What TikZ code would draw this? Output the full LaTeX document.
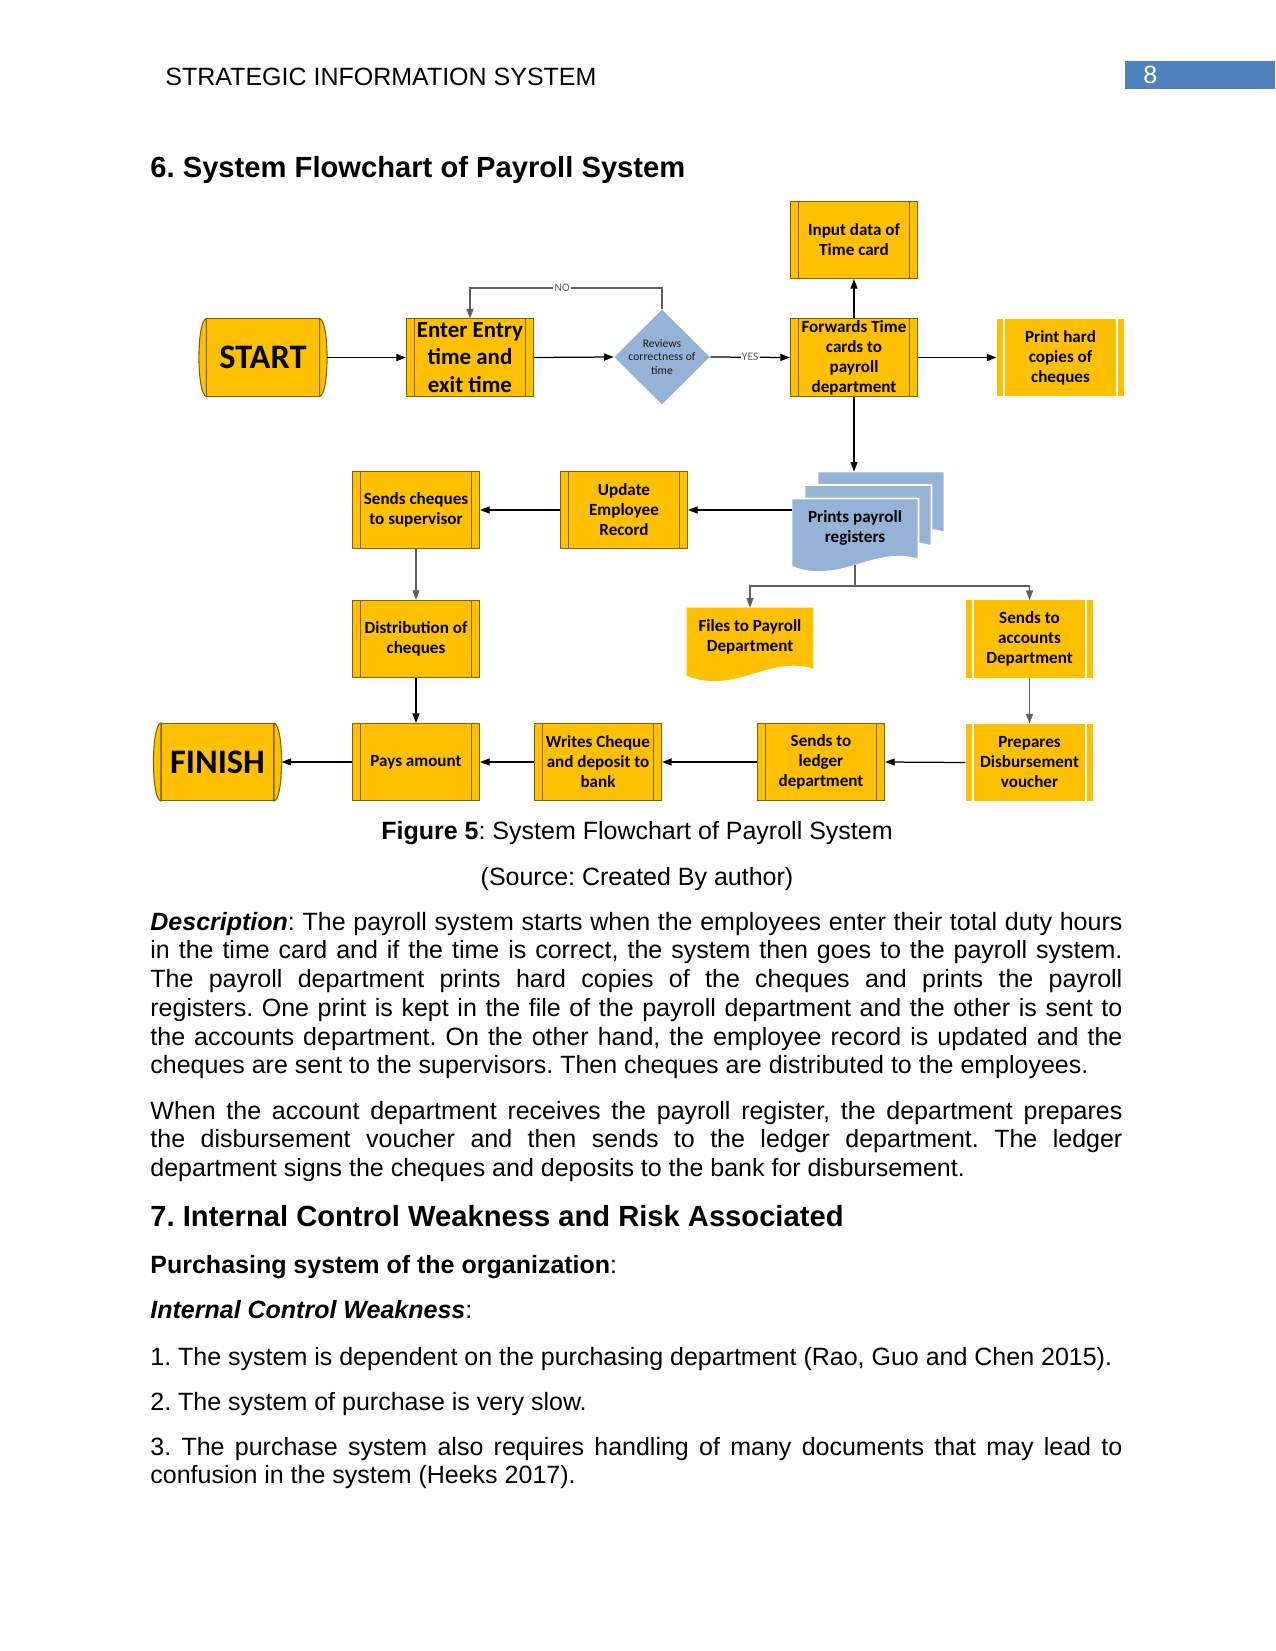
\documentclass[tikz,border=0pt]{standalone}
\usepackage{fontspec}
\setmainfont{Liberation Sans}
\newfontfamily\boxfont{Carlito}
\usetikzlibrary{shapes.geometric,arrows.meta,backgrounds}
\frenchspacing

\definecolor{boxgold}{HTML}{FFC000}
\definecolor{boxedge}{HTML}{7F6000}
\definecolor{docblue}{HTML}{95B3D7}
\definecolor{headblue}{HTML}{4F81BD}
\definecolor{linegray}{HTML}{5F5F5F}

\newcommand{\docpath}[1]{(#1.north west) -- (#1.north east) -- ([yshift=-1.5pt]#1.south east) .. controls ([xshift=-22pt,yshift=5pt]#1.south east) and ([xshift=24pt,yshift=-14pt]#1.south west) .. ([yshift=-5pt]#1.south west) -- cycle}

\begin{document}
\begin{tikzpicture}[x=0.48pt,y=-0.48pt,
  proc/.style={rectangle, fill=boxgold, draw=boxedge, line width=0.5pt, minimum width=61pt, minimum height=37pt, inner sep=0pt, align=center, text=black, font=\boxfont\bfseries\fontsize{8.2}{9.6}\selectfont,
    path picture={\draw[boxedge, line width=0.5pt] ([xshift=3.8pt]path picture bounding box.north west) -- ([xshift=3.8pt]path picture bounding box.south west) ([xshift=-3.8pt]path picture bounding box.north east) -- ([xshift=-3.8pt]path picture bounding box.south east);}},
  procw/.style={proc, draw=none,
    path picture={\draw[white, line width=0.6pt] ([xshift=3.4pt]path picture bounding box.north west) -- ([xshift=3.4pt]path picture bounding box.south west) ([xshift=-3.4pt]path picture bounding box.north east) -- ([xshift=-3.4pt]path picture bounding box.south east);}},
  term/.style={rectangle, fill=boxgold, draw=boxedge, line width=0.5pt, minimum width=53.8pt, minimum height=37pt, inner sep=0pt, text=black, font=\boxfont\bfseries\fontsize{16.5}{18}\selectfont},
  termend/.style={fill=boxgold, draw=boxedge, line width=0.5pt},
  decision/.style={diamond, aspect=1, fill=docblue, minimum width=46pt, minimum height=45.6pt, inner sep=0pt},
  dectext/.style={align=center, inner sep=0pt, text=black!90, font=\boxfont\fontsize{5.6}{6.7}\selectfont},
  doc/.style={rectangle, minimum width=60.5pt, minimum height=27.4pt, inner sep=0pt, align=center, text=black, font=\boxfont\bfseries\fontsize{8.2}{9.6}\selectfont},
  flow/.style={draw=black, line width=0.6pt, -{Triangle[length=4.6pt,width=3.4pt]}},
  grayflow/.style={flow, draw=linegray},
  grayline/.style={draw=linegray, line width=0.6pt},
  lbl/.style={fill=white, inner sep=0.6pt, text=linegray, font=\boxfont\fontsize{5.5}{6}\selectfont},
  body/.style={anchor=base west, inner sep=0pt, font=\fontsize{12}{13.82}\selectfont},
  para/.style={body, text width=466.56pt, align=justify}]

\begin{scope}[on background layer]
\path[fill=white, use as bounding box] (0,0) rectangle (1275,1651);
\end{scope}

\node[body] (headtext) at (165,85.5) {STRATEGIC INFORMATION SYSTEM};
\node[fill=headblue, minimum width=72pt, minimum height=13.4pt, inner sep=0pt, anchor=north west] (pagebox) at (1125,61) {};
\node[body, text=white] (pagenum) at (1143,84) {8};
\node[body, font=\bfseries\fontsize{14}{16}\selectfont] (title6) at (150,178) {6. System Flowchart of Payroll System};

\node[term] (start) at (263,357.5) {START};
\node[proc, font=\boxfont\bfseries\fontsize{11}{13.2}\selectfont] (enter) at (470,357.5) {Enter Entry\\time and\\exit time};
\node[decision] (rev) at (662,357) {};
\node[dectext] (revtext) at (rev) {Reviews\\correctness of\\time};
\node[proc] (fwd) at (854,357.5) {Forwards Time\\cards to\\payroll\\department};
\node[proc] (inp) at (854,240) {Input data of\\Time card};
\node[procw] (hard) at (1060.5,357.5) {Print hard\\copies of\\cheques};

\node[doc] (regs3) at (881,500.5) {};
\node[doc] (regs2) at (868,514) {};
\node[doc] (regs) at (855,527.5) {Prints payroll\\registers};
\node[proc] (upd) at (624,510) {Update\\Employee\\Record};
\node[proc] (sup) at (416,510) {Sends cheques\\to supervisor};

\node[proc] (dist) at (416,639) {Distribution of\\cheques};
\node[doc] (files) at (750,636.5) {Files to Payroll\\Department};
\node[procw] (acct) at (1029.5,639) {Sends to\\accounts\\Department};

\node[term] (finish) at (217.5,762) {FINISH};
\node[proc] (pays) at (416,762) {Pays amount};
\node[proc] (write) at (598,762) {Writes Cheque\\and deposit to\\bank};
\node[proc] (ledger) at (821,762) {Sends to\\ledger\\department};
\node[procw] (prep) at (1029.5,762.5) {Prepares\\Disbursement\\voucher};

\begin{scope}[on background layer]
\filldraw[fill=docblue, draw=white, line width=0.8pt] \docpath{regs3};
\filldraw[fill=docblue, draw=white, line width=0.8pt] \docpath{regs2};
\filldraw[fill=docblue, draw=white, line width=0.8pt] \docpath{regs};
\fill[boxgold] \docpath{files};
\end{scope}

\filldraw[termend] (start.north west) .. controls +(-10,2) and +(-10,-2) .. (start.south west) -- cycle;
\filldraw[termend] (start.north east) .. controls +(10,2) and +(10,-2) .. (start.south east) -- cycle;
\filldraw[termend] (finish.north west) .. controls +(-10,2) and +(-10,-2) .. (finish.south west) -- cycle;
\filldraw[termend] (finish.north east) .. controls +(10,2) and +(10,-2) .. (finish.south east) -- cycle;

\draw[flow] ([xshift=3.6pt]start.east) -- (enter.west);
\draw[flow] (enter.east) -- (rev.west);
\draw[flow] (rev.east) -- node[lbl] (yeslbl) {YES} (fwd.west);
\draw[grayflow] (rev.north) -- (rev.north |- 0,288) -| node[lbl, pos=0.26] (nolbl) {NO} (enter.north);
\draw[flow] (fwd.north) -- (inp.south);
\draw[flow] (fwd.east) -- (hard.west);
\draw[flow] (fwd.south) -- (fwd.south |- regs3.north);
\draw[flow] (regs.west |- upd.east) -- (upd.east);
\draw[flow] (upd.west) -- (sup.east);
\draw[grayflow] (sup.south) -- (dist.north);
\draw[flow] (dist.south) -- (pays.north);
\draw[flow] (pays.west) -- ([xshift=3.6pt]finish.east);
\draw[flow] (write.west) -- (pays.east);
\draw[flow] (ledger.west) -- (write.east);
\draw[flow] (prep.west) -- (ledger.east);
\draw[grayflow] (acct.south) -- (prep.north);
\draw[grayline] ([yshift=-4.3pt]regs.south) -- (regs.south |- 0,586) coordinate (br);
\draw[grayflow] (br) -| (files.north);
\draw[grayflow] (br) -| (acct.north);

\node[body, anchor=base] (caption) at (637,839) {\textbf{Figure 5}: System Flowchart of Payroll System};
\node[body, anchor=base] (source) at (637,885) {(Source: Created By author)};

\node[para] (desc) at (150,930) {\textbf{\textit{Description}}: The payroll system starts when the employees enter their total duty hours\linebreak
in the time card and if the time is correct, the system then goes to the payroll system.\linebreak
The payroll department prints hard copies of the cheques and prints the payroll\linebreak
registers. One print is kept in the file of the payroll department and the other is sent to\linebreak
the accounts department. On the other hand, the employee record is updated and the\linebreak
cheques are sent to the supervisors. Then cheques are distributed to the employees.};

\node[para] (when) at (150,1119) {When the account department receives the payroll register, the department prepares\linebreak
the disbursement voucher and then sends to the ledger department. The ledger\linebreak
department signs the cheques and deposits to the bank for disbursement.};

\node[body, font=\bfseries\fontsize{14}{16}\selectfont] (title7) at (150,1226) {7. Internal Control Weakness and Risk Associated};
\node[body] (purch) at (150,1273) {\textbf{Purchasing system of the organization}:};
\node[body] (icw) at (150,1318) {\textbf{\textit{Internal Control Weakness}}:};
\node[body] (item1) at (150,1365) {1. The system is dependent on the purchasing department (Rao, Guo and Chen 2015).};
\node[body] (item2) at (150,1410) {2. The system of purchase is very slow.};
\node[para] (item3) at (150,1455) {3. The purchase system also requires handling of many documents that may lead to\linebreak
confusion in the system (Heeks 2017).};

\end{tikzpicture}
\end{document}
